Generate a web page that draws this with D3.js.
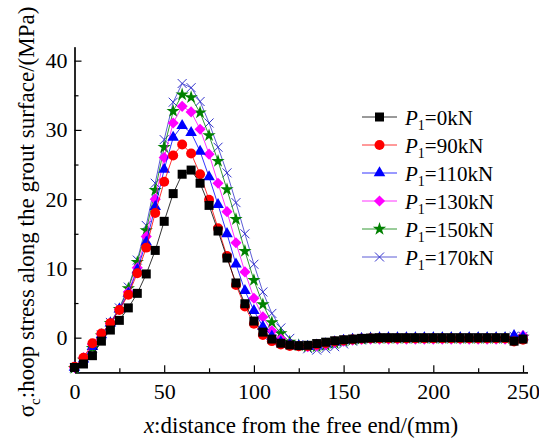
<!DOCTYPE html>
<html>
<head>
<meta charset="utf-8">
<script src="https://cdn.jsdelivr.net/npm/d3@7"></script>
<style>
    body { margin: 0; background: #fff; }
    text { font-family: "Liberation Serif", "Times New Roman", serif; fill: #000; }
</style>
</head>
<body>
<svg id="dessin" width="539" height="443"></svg>
<script>
//données (distance en mm, contrainte en MPa)
const distance = [0, 5, 10, 15, 20, 25, 30, 35, 40, 45, 50, 55, 60, 65, 70, 75, 80, 85, 90, 95, 100,
    105, 110, 115, 120, 125, 130, 135, 140, 145, 150, 155, 160, 165, 170, 175, 180, 185, 190, 195, 200,
    205, 210, 215, 220, 225, 230, 235, 240, 245, 250];

const p0 = [-4.3, -3.8, -2.6, -0.5, 1.1, 2.5, 4.3, 6.4, 9.2, 12.6, 16.8, 20.8, 23.6, 24.2, 22.3, 19.1, 15.4, 11.5, 7.9, 4.9, 2.4,
    0.8, -0.2, -0.8, -1.05, -1.15, -1.1, -0.85, -0.65, -0.45, -0.3, -0.2, -0.1, -0.05, 0, 0, 0, 0, 0, 0, 0,
    0, 0, 0, 0, 0, 0, 0, 0, -0.5, -0.2];
const p90 = [-4.2, -2.9, -0.8, 0.6, 2.1, 4.0, 6.2, 9.3, 13.0, 18.0, 22.5, 26.3, 27.9, 26.6, 23.6, 19.9, 15.8, 11.8, 7.6, 4.5, 2.0,
    0.4, -0.5, -1.0, -1.2, -1.25, -1.2, -1.0, -0.8, -0.55, -0.4, -0.25, -0.15, -0.1, -0.1, -0.1, -0.1, -0.1, -0.1, -0.1, -0.1,
    -0.1, -0.1, -0.1, -0.1, -0.1, -0.1, -0.1, -0.1, -0.55, -0.3];
const p110 = [-4.3, -3.1, -1.3, 0.4, 2.1, 4.1, 6.4, 9.8, 13.8, 18.9, 24.3, 28.9, 30.6, 29.6, 26.9, 23.2, 19.2, 15.0, 10.6, 6.8, 3.9,
    1.6, 0.2, -0.6, -1.0, -1.2, -1.3, -1.1, -0.9, -0.6, -0.4, -0.25, -0.15, -0.1, -0.05, -0.05, -0.05, -0.05, -0.05, -0.05, -0.05,
    -0.05, -0.05, -0.05, -0.05, -0.05, -0.05, -0.05, -0.05, 0.3, 0.1];
const p130 = [-4.3, -2.9, -1.0, 0.5, 2.1, 4.1, 6.6, 10.1, 14.6, 20.0, 26.0, 31.0, 33.4, 32.6, 30.1, 26.5, 22.3, 18.2, 13.7, 9.5, 5.7,
    3.0, 1.0, -0.2, -0.9, -1.2, -1.3, -1.2, -1.0, -0.7, -0.5, -0.35, -0.25, -0.2, -0.2, -0.2, -0.2, -0.2, -0.2, -0.2, -0.2,
    -0.2, -0.2, -0.2, -0.2, -0.2, -0.2, -0.2, -0.2, -0.4, 0.3];
const p150 = [-4.4, -3.2, -1.5, 0.3, 2.1, 4.1, 7.1, 10.9, 15.5, 21.3, 27.5, 32.7, 35.1, 34.7, 32.5, 29.2, 25.5, 21.4, 17.1, 12.5, 8.3,
    4.8, 2.2, 0.6, -0.6, -1.1, -1.3, -1.3, -1.1, -0.8, -0.5, -0.3, -0.2, -0.1, -0.1, -0.1, -0.1, -0.1, -0.1, -0.1, -0.1,
    -0.1, -0.1, -0.1, -0.1, -0.1, -0.1, -0.1, -0.1, -0.3, 0.1];
const p170 = [-4.4, -3.3, -1.5, 0.4, 2.2, 4.3, 7.3, 11.2, 16.2, 22.3, 28.6, 34.0, 36.7, 36.1, 34.1, 31.0, 27.5, 23.8, 19.5, 15.0, 10.6,
    6.6, 3.5, 1.4, -0.1, -1.0, -1.6, -1.8, -1.6, -1.3, -0.9, -0.5, -0.3, -0.15, -0.05, -0.05, -0.05, -0.05, -0.05, -0.05, -0.05,
    -0.05, -0.05, -0.05, -0.05, -0.05, -0.05, -0.05, -0.05, 0.2, 0.2];

const charges = ["0", "90", "110", "130", "150", "170"];
const xTicks = [0, 50, 100, 150, 200, 250];
const xMinor = [25, 75, 125, 175, 225];
const yTicks = [0, 10, 20, 30, 40];
const yMinor = [5, 15, 25, 35];

const couleurs = ["#000000", "#ff0000", "#0000ff", "#ff00ff", "#008000", "#3333cc"];
const symboles = ["carre", "rond", "triangle", "losange", "etoile", "croix"];

initApp();

function initApp() {
    let valeurs = [p0, p90, p110, p130, p150, p170];
    let series = charges.map((c, i) => ({
        nom: c,
        points: distance.map((d, j) => ({ x: d, y: valeurs[i][j] })),
        couleur: couleurs[i],
        symbole: symboles[i]
    }));

    const svg = d3.select("#dessin");

    const x = d3.scaleLinear().domain([0, 252.5]).range([74.5, 527.5]);
    const y = d3.scaleLinear().domain([-5, 42]).range([372.3, 46.8]);

    //axes (graduations vers l'intérieur)
    svg.append("g")
        .attr("transform", `translate(0,${y(-5)})`)
        .call(d3.axisBottom(x).tickValues(xMinor).tickSizeInner(-4).tickSizeOuter(0).tickFormat(""))
    svg.append("g")
        .attr("class", "axeX")
        .attr("transform", `translate(0,${y(-5)})`)
        .call(d3.axisBottom(x).tickValues(xTicks).tickSizeInner(-7).tickSizeOuter(0).tickPadding(11))
    svg.append("g")
        .attr("transform", `translate(${x(0)},0)`)
        .call(d3.axisLeft(y).tickValues(yMinor).tickSizeInner(-4).tickSizeOuter(0).tickFormat(""))
    svg.append("g")
        .attr("class", "axeY")
        .attr("transform", `translate(${x(0)},0)`)
        .call(d3.axisLeft(y).tickValues(yTicks).tickSizeInner(-7).tickSizeOuter(0).tickPadding(7))

    svg.selectAll(".domain, .tick line").style("stroke", "#000").style("stroke-width", "1.2")
    svg.selectAll(".tick text")
        .style("font-family", "'Liberation Serif', 'Times New Roman', serif")
        .style("font-size", "22px")
        .style("fill", "#000")

    //titres des axes
    let titreX = svg.append("text")
        .attr("x", 301)
        .attr("y", 433)
        .attr("text-anchor", "middle")
        .style("font-size", "23px")
    titreX.append("tspan").style("font-style", "italic").text("x")
    titreX.append("tspan").text(":distance from the free end/(mm)")

    let titreY = svg.append("text")
        .attr("transform", "translate(34,212) rotate(-90)")
        .attr("text-anchor", "middle")
        .style("font-size", "23px")
    titreY.append("tspan").text("σ")
    titreY.append("tspan").attr("dy", 6).style("font-size", "15px").text("c")
    titreY.append("tspan").attr("dy", -6).text(":hoop stress along the grout surface/(MPa)")

    const ligne = d3.line().x(d => x(d.x)).y(d => y(d.y))

    //courbes dessinées de la dernière à la première (noir au-dessus)
    series.slice().reverse().forEach(s => {
        let g = svg.append("g")
        g.append("path")
            .datum(s.points)
            .attr("d", ligne)
            .style("fill", "none")
            .style("stroke", s.couleur)
            .style("stroke-width", "0.8")
        g.selectAll(".marque")
            .data(s.points)
            .enter()
            .append("path")
            .attr("class", "marque")
            .attr("transform", d => `translate(${x(d.x)},${y(d.y)})` + (s.symbole == "losange" ? " rotate(45)" : ""))
            .attr("d", marqueur(s.symbole))
            .call(styleMarque, s)
    })

    //légende
    let legende = svg.append("g")
        .selectAll("g")
        .data(series)
        .enter()
        .append("g")
        .attr("transform", (d, i) => `translate(0,${117 + i * 28})`)

    legende.append("line")
        .attr("x1", 362)
        .attr("x2", 397)
        .style("stroke", d => d.couleur)
        .style("stroke-width", "0.8")
    legende.append("path")
        .attr("transform", d => "translate(379.5,0)" + (d.symbole == "losange" ? " rotate(45)" : ""))
        .attr("d", d => marqueur(d.symbole))
        .each(function (d) { d3.select(this).call(styleMarque, d) })

    let texte = legende.append("text")
        .attr("x", 405)
        .attr("y", 8)
        .style("font-size", "21px")
    texte.append("tspan").style("font-style", "italic").text("P")
    texte.append("tspan").attr("dy", 5).style("font-size", "14px").text("1")
    texte.append("tspan").attr("dy", -5).text(d => "=" + d.nom + "kN")
}

function marqueur(type) {
    if (type == "carre") return d3.symbol(d3.symbolSquare, 81)()
    if (type == "rond") return d3.symbol(d3.symbolCircle, 78)()
    if (type == "triangle") return d3.symbol(d3.symbolTriangle, 58)()
    if (type == "losange") return d3.symbol(d3.symbolSquare, 62)()
    if (type == "etoile") return d3.symbol(d3.symbolStar, 55)()
    return "M-4.5,-4.5L4.5,4.5M-4.5,4.5L4.5,-4.5"
}

function styleMarque(sel, s) {
    if (s.symbole == "croix") {
        sel.style("fill", "none").style("stroke", s.couleur).style("stroke-width", "1")
    } else {
        sel.style("fill", s.couleur).style("stroke", "none")
    }
}
</script>
</body>
</html>
